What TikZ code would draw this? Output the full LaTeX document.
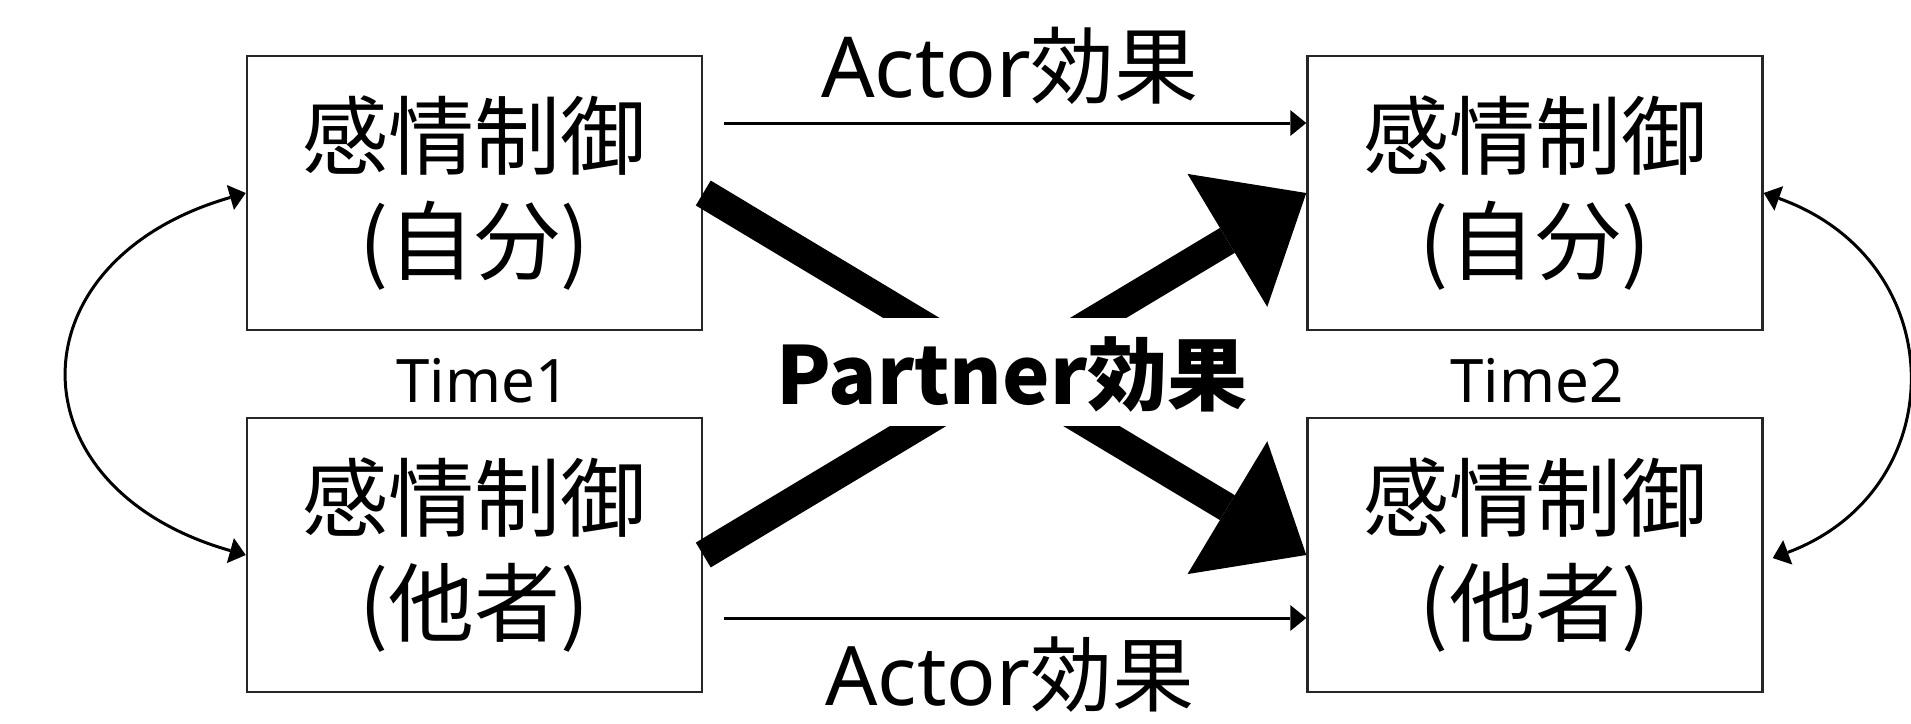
\documentclass[tikz,border=0pt]{standalone}
\usepackage{fontspec}
\setmainfont{Noto Sans CJK JP}
\newfontfamily\lat{Noto Sans}
\usetikzlibrary{arrows.meta,calc}
\begin{document}
\begin{tikzpicture}[x=1pt,y=-1pt,
  box/.style={draw=black!85, line width=2.5pt, minimum width=455pt, minimum height=274pt, align=center, inner sep=0pt, font=\fontsize{86}{105}\selectfont},
  thinarrow/.style={line width=3pt, -{Triangle[length=16pt,width=26pt,line width=0pt]}},
  twohead/.style={line width=3pt, {Triangle[length=16pt,width=26pt,line width=0pt]}-{Triangle[length=16pt,width=26pt,line width=0pt]}},
  bigarrow/.style={line width=29pt, -{Triangle[length=92pt,width=155pt,line width=0pt]}},
  lbl/.style={anchor=base, inner sep=0pt}
]
\useasboundingbox (0,0) rectangle (1911,723);
\node[box] (A) at (474.5,193) {感情制御\\(自分)};
\node[box] (B) at (474.5,555) {感情制御\\(他者)};
\node[box] (C) at (1535,193) {感情制御\\(自分)};
\node[box] (D) at (1535,555) {感情制御\\(他者)};
% partner arrows
\draw[bigarrow] (A.east) -- (D.west);
\draw[bigarrow] (B.east) -- (C.west);
\node[lbl, fill=white, text height=86pt, text depth=22pt, font=\bfseries\fontsize{80}{100}\selectfont] (P) at (1012,404) {Partner効果};
% actor arrows
\coordinate (s1) at (724,123);
\coordinate (s2) at (724,618);
\draw[thinarrow] (s1) -- (s1 -| C.west);
\draw[thinarrow] (s2) -- (s2 -| D.west);
\node[lbl, font=\fontsize{84}{100}\selectfont] (act1) at (1010,97) {{\lat Actor}効果};
\node[lbl, font=\fontsize{82}{100}\selectfont] (act2) at (1010,705) {{\lat Actor}効果};
% time labels
\node[lbl, font=\lat\fontsize{60}{70}\selectfont] (t1) at (483,402) {Time1};
\node[lbl, font=\lat\fontsize{60}{70}\selectfont] (t2) at (1537,402) {Time2};
% correlations
\coordinate (d2) at ($(D.east)+(9,3)$);
\draw[twohead] (A.west) .. controls (10,261) and (10,488) .. (B.west);
\draw[twohead] (C.east) .. controls (1954,261) and (1954,490) .. (d2);
\end{tikzpicture}
\end{document}
